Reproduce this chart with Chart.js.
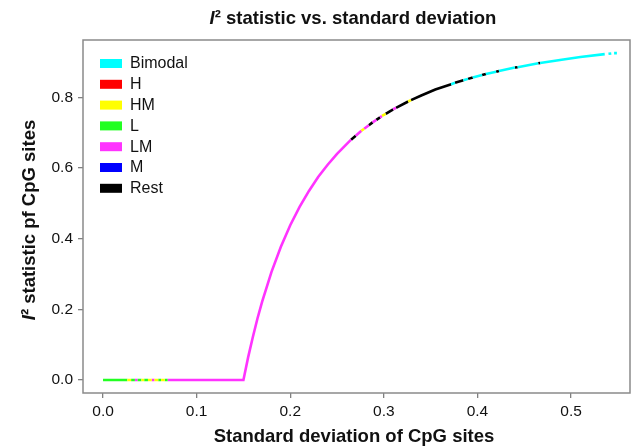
<!DOCTYPE html>
<html>
<head>
<meta charset="utf-8">
<script src="https://cdn.jsdelivr.net/npm/chart.js@4/dist/chart.umd.min.js"></script>
<style>
  html, body { margin: 0; padding: 0; background: #ffffff; }
  #c { display: block; }
</style>
</head>
<body>
<canvas id="c" width="637" height="447"></canvas>
<script>
// ---------- DATA ----------
const categories = ['Bimodal', 'H', 'HM', 'L', 'LM', 'M', 'Rest'];

// Sample points along the curve (standard deviation, I² statistic)
const sdPoints = [
  0.000, 0.026, 0.030, 0.034, 0.037, 0.041, 0.044, 0.048, 0.052, 0.055,
  0.059, 0.062, 0.066, 0.069, 0.150, 0.155, 0.160, 0.165, 0.170, 0.180,
  0.190, 0.200, 0.210, 0.220, 0.230, 0.240, 0.250, 0.265, 0.270, 0.276,
  0.279, 0.284, 0.288, 0.292, 0.296, 0.298, 0.302, 0.310, 0.313, 0.326,
  0.329, 0.340, 0.355, 0.372, 0.376, 0.385, 0.390, 0.395, 0.405, 0.409,
  0.420, 0.423, 0.440, 0.443, 0.465, 0.467, 0.490, 0.510, 0.536, 0.540,
  0.543, 0.546, 0.549
];
const i2Points = [
  0, 0, 0, 0, 0, 0, 0, 0, 0, 0,
  0, 0, 0, 0, 0, 0.064, 0.121, 0.174, 0.222, 0.306,
  0.377, 0.438, 0.490, 0.535, 0.575, 0.609, 0.640, 0.680, 0.691, 0.705,
  0.711, 0.721, 0.729, 0.736, 0.743, 0.747, 0.753, 0.766, 0.770, 0.788,
  0.792, 0.805, 0.822, 0.837, 0.841, 0.848, 0.852, 0.856, 0.863, 0.866,
  0.872, 0.874, 0.884, 0.885, 0.896, 0.897, 0.906, 0.914, 0.922, 0.923,
  0.924, 0.925, 0.925
];
// Category of the piece of curve between sample i and sample i+1 (null = gap)
const segmentCategory = [
  'L', 'HM', 'L', 'LM', 'L', 'HM', 'L', 'HM', 'LM', 'HM',
  'L', 'HM', 'L', 'LM', 'LM', 'LM', 'LM', 'LM', 'LM', 'LM',
  'LM', 'LM', 'LM', 'LM', 'LM', 'LM', 'LM', 'Rest', 'LM', 'HM',
  'LM', 'Rest', 'LM', 'Rest', 'LM', 'HM', 'Rest', 'LM', 'Rest', 'HM',
  'Rest', 'Rest', 'Rest', 'Bimodal', 'Rest', 'Bimodal', 'Rest', 'Bimodal', 'Rest', 'Bimodal',
  'Rest', 'Bimodal', 'Rest', 'Bimodal', 'Rest', 'Bimodal', 'Bimodal', 'Bimodal', null, 'Bimodal',
  null, 'Bimodal'
];

const xTickValues = [0.0, 0.1, 0.2, 0.3, 0.4, 0.5];
const yTickValues = [0.0, 0.2, 0.4, 0.6, 0.8];

// ---------- STYLE ----------
const categoryColors = {
  'Bimodal': '#00ffff', 'H': '#ff0000', 'HM': '#ffff00', 'L': '#22ff22',
  'LM': '#ff33ff', 'M': '#0000ff', 'Rest': '#000000'
};
const FONT = '"Liberation Sans", Arial, Helvetica, sans-serif';

// Build one line dataset per category from the sample arrays
function buildData(cat) {
  const out = [];
  let lastEnd = -1;
  for (let i = 0; i < segmentCategory.length; i++) {
    if (segmentCategory[i] !== cat) continue;
    if (lastEnd !== i) {
      if (out.length) out.push({ x: sdPoints[i], y: null });
      out.push({ x: sdPoints[i], y: i2Points[i] });
    }
    out.push({ x: sdPoints[i + 1], y: i2Points[i + 1] });
    lastEnd = i + 1;
  }
  return out;
}

const datasets = categories.map(cat => ({
  label: cat,
  data: buildData(cat),
  borderColor: categoryColors[cat],
  backgroundColor: categoryColors[cat],
  borderWidth: 2.6,
  pointRadius: 0,
  tension: 0,
  spanGaps: false,
  fill: false
}));

// Custom drawing: frame, titles (mixed italic), legend
const decorPlugin = {
  id: 'decor',
  beforeDraw(chart) {
    const ctx = chart.ctx;
    ctx.save();
    ctx.fillStyle = '#ffffff';
    ctx.fillRect(0, 0, chart.width, chart.height);
    ctx.restore();
  },
  afterDraw(chart) {
    const ctx = chart.ctx;
    const a = chart.chartArea;
    ctx.save();
    // frame
    ctx.strokeStyle = '#8a8a8a';
    ctx.lineWidth = 1.5;
    ctx.strokeRect(a.left, a.top, a.right - a.left, a.bottom - a.top);

    // helper: draw "I" italic + rest bold, centered at (cx, cy)
    function mixedTitle(rest, size, cx, cy, rotate) {
      ctx.save();
      ctx.translate(cx, cy);
      if (rotate) ctx.rotate(-Math.PI / 2);
      const fI = 'italic bold ' + size + 'px ' + FONT;
      const fR = 'bold ' + size + 'px ' + FONT;
      ctx.font = fI; const wI = ctx.measureText('I').width;
      ctx.font = fR; const wR = ctx.measureText(rest).width;
      const total = wI + wR;
      ctx.textBaseline = 'middle';
      ctx.textAlign = 'left';
      ctx.fillStyle = '#111111';
      ctx.font = fI; ctx.fillText('I', -total / 2, 0);
      ctx.font = fR; ctx.fillText(rest, -total / 2 + wI, 0);
      ctx.restore();
    }
    mixedTitle('\u00b2 statistic vs. standard deviation', 18.5, 353, 19, false);
    mixedTitle('\u00b2 statistic pf CpG sites', 18.5, 30, 220, true);

    // x axis title
    ctx.font = 'bold 18.5px ' + FONT;
    ctx.fillStyle = '#111111';
    ctx.textAlign = 'center';
    ctx.textBaseline = 'middle';
    ctx.fillText('Standard deviation of CpG sites', 354, 437);

    // legend
    ctx.font = '16px ' + FONT;
    ctx.textAlign = 'left';
    ctx.textBaseline = 'middle';
    chart.data.datasets.forEach((ds, i) => {
      const y = 63.5 + i * 20.8;
      ctx.fillStyle = ds.borderColor;
      ctx.fillRect(100, y - 4.5, 22, 9);
      ctx.fillStyle = '#111111';
      ctx.fillText(ds.label, 130, y + 0.5);
    });
    ctx.restore();
  }
};

new Chart(document.getElementById('c'), {
  type: 'line',
  data: { datasets },
  options: {
    responsive: false,
    devicePixelRatio: 1,
    animation: false,
    layout: { padding: { top: 40, right: 7, left: 0, bottom: 0 } },
    plugins: { legend: { display: false }, title: { display: false }, tooltip: { enabled: false } },
    scales: {
      x: {
        type: 'linear',
        min: -0.0214,
        max: 0.563,
        afterBuildTicks: s => { s.ticks = xTickValues.map(v => ({ value: v })); },
        afterFit: s => { s.height = 54; },
        ticks: {
          callback: v => Number(v).toFixed(1),
          font: { family: FONT, size: 15.5 },
          color: '#111111',
          padding: 4,
          maxRotation: 0
        },
        grid: { display: true, drawOnChartArea: false, drawTicks: true, tickLength: 5, color: '#808080', lineWidth: 1.3 },
        border: { display: false }
      },
      y: {
        type: 'linear',
        min: -0.0368,
        max: 0.962,
        afterBuildTicks: s => { s.ticks = yTickValues.map(v => ({ value: v })); },
        afterFit: s => { s.width = 83; },
        ticks: {
          callback: v => Number(v).toFixed(1),
          font: { family: FONT, size: 15.5 },
          color: '#111111',
          padding: 5
        },
        grid: { display: true, drawOnChartArea: false, drawTicks: true, tickLength: 5, color: '#808080', lineWidth: 1.3 },
        border: { display: false }
      }
    }
  },
  plugins: [decorPlugin]
});
</script>
</body>
</html>
